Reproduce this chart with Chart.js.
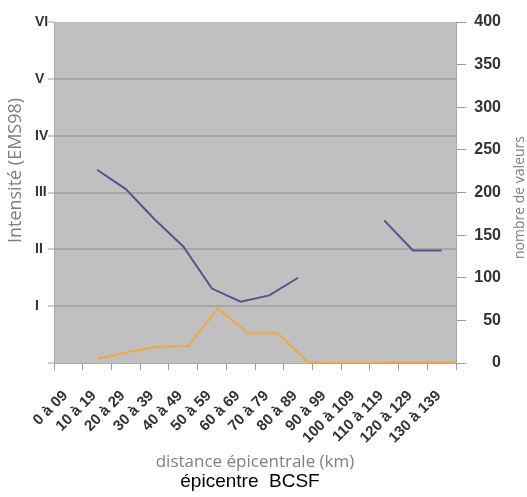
<!DOCTYPE html>
<html>
<head>
<meta charset="utf-8">
<script src="https://cdn.jsdelivr.net/npm/chart.js"></script>
<style>
  body { margin: 0; background: #fff; }
</style>
</head>
<body>
<canvas id="graphe" width="527" height="497"></canvas>
<script>
// classes de distance (km)
const classes = ['0 à 09', '10 à 19', '20 à 29', '30 à 39', '40 à 49', '50 à 59', '60 à 69',
    '70 à 79', '80 à 89', '90 à 99', '100 à 109', '110 à 119', '120 à 129', '130 à 139'];

// intensité moyenne (axe de gauche, 0 à VI)
const intensite = [null, 3.4, 3.06, 2.53, 2.05, 1.31, 1.08, 1.19, 1.5, null, null, 2.51, 1.98, 1.98];

// nombre de valeurs (axe de droite) - courbe collée d'un autre graphe, pas décalé
const rangValeurs = [1, 2, 3, 4, 5, 6, 7, 8, 9, 10, 11, 12, 13];
const nbValeurs = [5, 13, 19, 20, 64, 35, 35, 1, 0, 0, 1, 1, 1];

const romains = ['', 'I', 'II', 'III', 'IV', 'V', 'VI'];

const gris = '#9a9a9a';
const texte = '#333';
const grisTitre = '#808080';

// fond gris + titres verticaux (lecture de bas en haut des deux côtés)
const decor = {
    id: 'decor',
    beforeDraw(chart) {
        const { ctx, chartArea: a } = chart;
        ctx.save();
        ctx.fillStyle = '#c0c0c0';
        ctx.fillRect(a.left, a.top, a.right - a.left, a.bottom - a.top);
        ctx.restore();
    },
    afterDraw(chart) {
        const { ctx, chartArea: a } = chart;
        const milieu = (a.top + a.bottom) / 2;
        ctx.save();
        ctx.fillStyle = grisTitre;
        ctx.textAlign = 'center';
        ctx.textBaseline = 'middle';

        ctx.save();
        ctx.font = '18px "Open Sans"';
        ctx.translate(16, milieu - 22);
        ctx.rotate(-Math.PI / 2);
        ctx.fillText('Intensité (EMS98)', 0, 0);
        ctx.restore();

        ctx.save();
        ctx.font = '14px "Open Sans"';
        ctx.translate(520, milieu + 5);
        ctx.rotate(-Math.PI / 2);
        ctx.fillText('nombre de valeurs', 0, 0);
        ctx.restore();

        ctx.fillStyle = '#000';
        ctx.font = '19px "Liberation Sans", Arial';
        ctx.fillText('épicentre  BCSF', 250, 482);
        ctx.restore();
    }
};

new Chart(document.getElementById('graphe'), {
    type: 'line',
    data: {
        labels: classes,
        datasets: [{
            data: intensite,
            yAxisID: 'y',
            borderColor: '#58538f',
            borderWidth: 2,
            pointRadius: 0,
            tension: 0
        }, {
            data: rangValeurs.map((r, i) => ({ x: r, y: nbValeurs[i] })),
            xAxisID: 'x2',
            yAxisID: 'y2',
            borderColor: '#f2a743',
            borderWidth: 2,
            pointRadius: 0,
            tension: 0
        }]
    },
    options: {
        responsive: false,
        animation: false,
        layout: { padding: { left: 35, right: 26, top: 22, bottom: 0 } },
        plugins: {
            legend: { display: false },
            tooltip: { enabled: false }
        },
        scales: {
            x: {
                offset: true,
                afterFit: s => { s.height = 134; },
                grid: { offset: true, drawOnChartArea: false, tickLength: 7, tickColor: gris },
                border: { color: '#a8a8a8' },
                ticks: {
                    autoSkip: false,
                    minRotation: 45,
                    maxRotation: 45,
                    padding: 17,
                    labelOffset: -3,
                    color: texte,
                    font: { family: '"Liberation Sans"', size: 15, weight: 'bold' }
                },
                title: {
                    display: true,
                    text: 'distance épicentrale (km)',
                    color: grisTitre,
                    font: { family: '"Open Sans"', size: 17, lineHeight: 1 },
                    padding: { top: 0, bottom: 26 }
                }
            },
            x2: {
                type: 'linear',
                display: false,
                min: -0.467,
                max: 12.933
            },
            y: {
                position: 'left',
                min: 0,
                max: 6,
                afterFit: s => { s.width = 19; },
                grid: {
                    color: c => (c.tick.value >= 1 && c.tick.value <= 5 ? '#a6a6a6' : 'rgba(0,0,0,0)'),
                    lineWidth: 2,
                    tickWidth: 1,
                    tickColor: gris,
                    tickLength: 6
                },
                border: { color: '#a8a8a8' },
                ticks: {
                    stepSize: 1,
                    crossAlign: 'far',
                    color: texte,
                    font: { family: '"Liberation Sans"', size: 14, weight: 'bold' },
                    callback: v => romains[v]
                }
            },
            y2: {
                position: 'right',
                min: 0,
                max: 400,
                afterFit: s => { s.width = 45; },
                grid: { drawOnChartArea: false, tickColor: gris, tickLength: 10 },
                border: { color: '#a8a8a8' },
                ticks: {
                    stepSize: 50,
                    crossAlign: 'far',
                    color: texte,
                    font: { family: '"Liberation Sans"', size: 16, weight: 'bold' }
                }
            }
        }
    },
    plugins: [decor]
});
</script>
</body>
</html>
